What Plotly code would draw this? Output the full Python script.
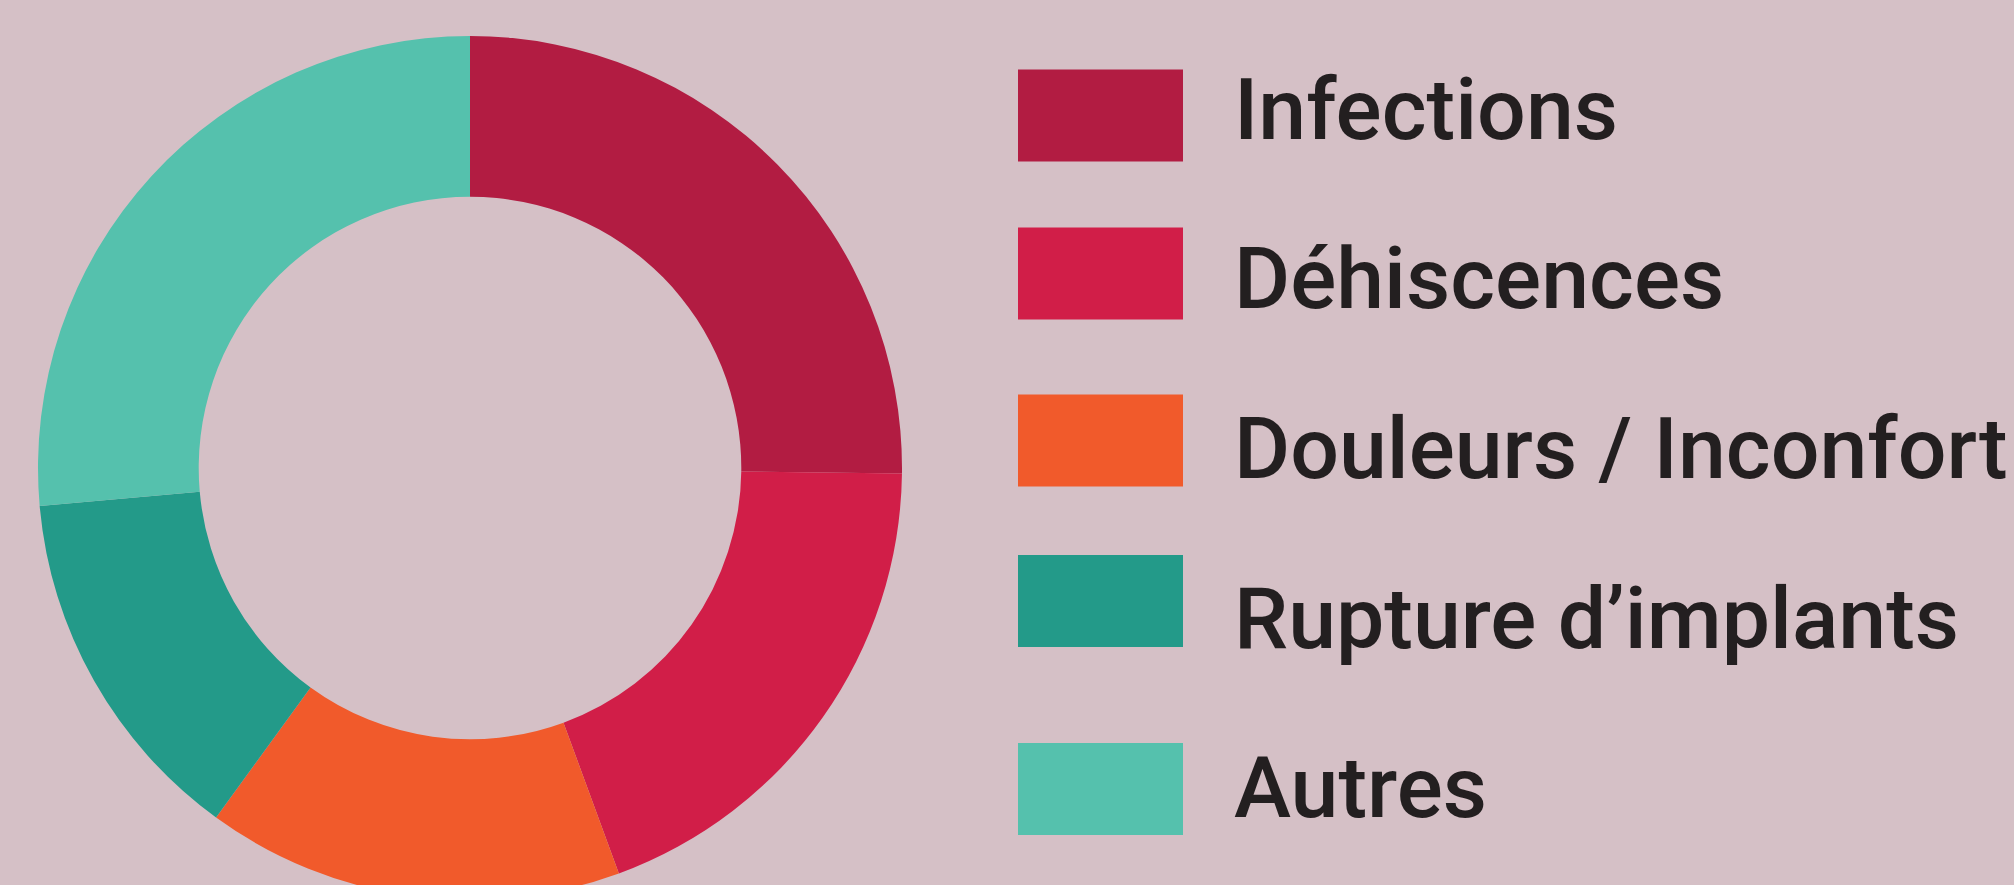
import plotly.graph_objects as go

labels = ["Infections", "Déhiscences", "Douleurs / Inconfort", "Rupture d’implants", "Autres"]
values = [25.2, 19.2, 15.6, 13.6, 26.4]
colors = ["#B21C42", "#D11E48", "#F15A2B", "#239A89", "#55C1AD"]

BG = "#D5C0C6"
W, H = 2014, 936  # taller than the window so the donut bottom is cropped like the reference

cx, cy, R = 470, 468, 432
hole = 0.628

def py(y):  # pixel-from-top -> paper
    return (H - y) / H

def px(x):
    return x / W

fig = go.Figure(go.Pie(
    labels=labels, values=values, sort=False, direction="clockwise", rotation=0,
    hole=hole, marker=dict(colors=colors, line=dict(width=0)),
    textinfo="none", hoverinfo="label+percent",
    domain=dict(x=[px(cx - R), px(cx + R)], y=[py(cy + R), py(cy - R)]),
    showlegend=False,
))

square_centers = [115.5, 273.5, 440.5, 601, 789]
text_centers = [109.5, 278.7, 448.7, 618, 787.5]
sq_x0, sq_x1, sq_h = 1018, 1183, 92

shapes = []
annotations = []
for lab, col, sc, tc in zip(labels, colors, square_centers, text_centers):
    shapes.append(dict(type="rect", xref="paper", yref="paper",
                       x0=px(sq_x0), x1=px(sq_x1), y0=py(sc + sq_h / 2), y1=py(sc - sq_h / 2),
                       fillcolor=col, line=dict(width=0)))
    annotations.append(dict(text=lab, xref="paper", yref="paper", x=px(1232), y=py(tc),
                            xanchor="left", yanchor="middle", showarrow=False,
                            font=dict(family="Roboto", size=86, color="#231F20", weight=500)))

fig.update_layout(
    width=W, height=H, margin=dict(l=0, r=0, t=0, b=0),
    paper_bgcolor=BG, plot_bgcolor=BG,
    shapes=shapes, annotations=annotations,
)

fig.write_html("out.html", config={"displayModeBar": False},
               post_script="document.body.style.margin='0';document.body.style.overflow='hidden';document.documentElement.style.overflow='hidden';document.body.style.background='" + BG + "';")
